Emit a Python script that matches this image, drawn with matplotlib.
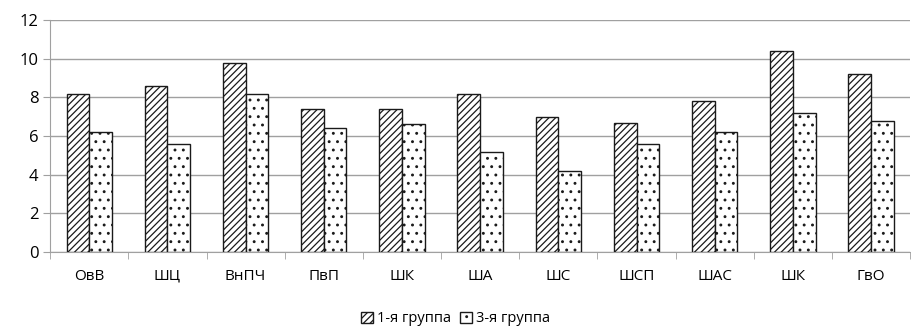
import matplotlib.pyplot as plt
import numpy as np

categories = ['ОвВ', 'ШЦ', 'ВнПЧ', 'ПвП', 'ШК', 'ША', 'ШС', 'ШСП', 'ШАС', 'ШК', 'ГвО']
group1 = [8.2, 8.6, 9.8, 7.4, 7.4, 8.2, 7.0, 6.7, 7.8, 10.4, 9.2]
group3 = [6.2, 5.6, 8.2, 6.4, 6.6, 5.2, 4.2, 5.6, 6.2, 7.2, 6.8]
labels = ['1-я группа', '3-я группа']

plt.rcParams['font.family'] = ['Open Sans', 'DejaVu Sans']
plt.rcParams['hatch.linewidth'] = 0.9

fig = plt.figure(figsize=(9.12, 3.36), dpi=100)
ax = fig.add_axes([0.055, 0.25, 0.943, 0.69])

x = np.arange(len(categories))
w = 0.29
ax.bar(x - w / 2, group1, w, facecolor='white', edgecolor='#1a1a1a',
       hatch='/////', linewidth=1.0, label=labels[0], zorder=3)
ax.bar(x + w / 2, group3, w, facecolor='white', edgecolor='#1a1a1a',
       hatch='..', linewidth=1.0, label=labels[1], zorder=3)

ax.set_xlim(-0.5, len(categories) - 0.5)
ax.set_ylim(0, 12)
ax.set_yticks(range(0, 13, 2))
ax.yaxis.grid(True, color='#a0a0a0', linewidth=1.0, zorder=0)

ax.set_xticks(x)
ax.set_xticklabels(categories)
ax.set_xticks(np.arange(-0.5, len(categories)), minor=True)
ax.tick_params(axis='x', which='major', length=0, pad=12, labelsize=11)
ax.tick_params(axis='x', which='minor', length=5, color='#a0a0a0')
ax.tick_params(axis='y', length=5, color='#a0a0a0', labelsize=12)

for s in ['top', 'right']:
    ax.spines[s].set_visible(False)
for s in ['left', 'bottom']:
    ax.spines[s].set_color('#a0a0a0')

fig.legend(loc='lower center', bbox_to_anchor=(0.5, -0.01), ncol=2,
           frameon=False, handlelength=0.8, handleheight=0.8,
           handletextpad=0.3, columnspacing=0.6, fontsize=10.5)

fig.savefig('out.png', dpi=100)
